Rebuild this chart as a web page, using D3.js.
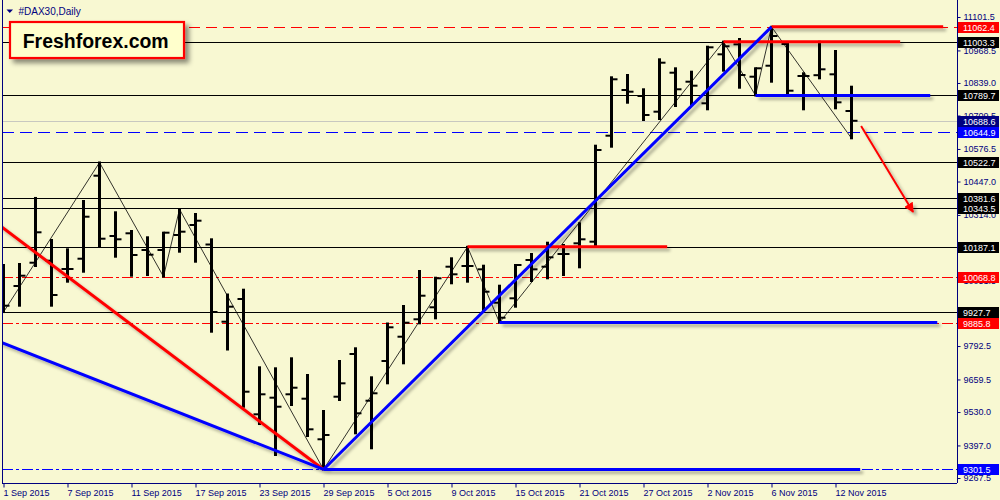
<!DOCTYPE html>
<html><head><meta charset="utf-8">
<script src="https://cdn.jsdelivr.net/npm/d3@7/dist/d3.min.js"></script>
<style>html,body{margin:0;padding:0;background:#f8f8d2;overflow:hidden}</style>
</head><body>
<svg id="chart" width="1000" height="500"></svg>
<script>
// ---------- DATA ----------
const dates = [
 "2015-09-01","2015-09-02","2015-09-03","2015-09-04","2015-09-07","2015-09-08","2015-09-09","2015-09-10","2015-09-11",
 "2015-09-14","2015-09-15","2015-09-16","2015-09-17","2015-09-18","2015-09-21","2015-09-22","2015-09-23","2015-09-24",
 "2015-09-25","2015-09-28","2015-09-29","2015-09-30","2015-10-01","2015-10-02","2015-10-05","2015-10-06","2015-10-07",
 "2015-10-08","2015-10-09","2015-10-12","2015-10-13","2015-10-14","2015-10-15","2015-10-16","2015-10-19","2015-10-20",
 "2015-10-21","2015-10-22","2015-10-23","2015-10-26","2015-10-27","2015-10-28","2015-10-29","2015-10-30","2015-11-02",
 "2015-11-03","2015-11-04","2015-11-05","2015-11-06","2015-11-09","2015-11-10","2015-11-11","2015-11-12","2015-11-13"];
const opens  = [9995.5,10031.3,10124.0,10132.0,10099.0,10139.9,10470.1,10230.2,10241.0,10174.5,10174.5,10234.2,10274.0,10196.4,9889.3,9979.6,9520.9,9587.0,9600.5,9583.0,9421.5,9590.9,9760.8,9575.0,9733.0,9829.6,9898.9,9946.6,10108.1,10110.9,10097.7,9964.9,9982.4,10134.8,10108.1,10158.6,10201.2,10207.6,10629.3,10811.1,10787.2,10724.8,10879.9,10844.1,10758.2,10953.0,10992.8,10864.0,10907.7,10994.0,10866.8,10870.0,10873.5,10727.5];
const highs  = [10114.9,10118.9,10381.6,10214.3,10177.3,10369.5,10522.7,10324.5,10250.1,10225.1,10243.4,10336.5,10317.8,10217.1,9997.5,10016.6,9707.9,9703.9,9743.7,9677.3,9534.0,9733.0,9783.5,9668.1,9882.1,9951.8,10091.0,10064.3,10141.5,10187.1,10112.1,10032.5,10114.9,10158.6,10203.6,10194.4,10280.8,10589.5,10861.6,10870.8,10813.9,10933.2,10897.4,10883.9,10983.3,11003.3,11014.0,10897.4,11062.4,10999.0,10877.5,11003.2,10966.2,10824.2];
const lows   = [9927.7,9953.0,10110.9,9953.0,10048.5,10088.2,10187.7,10147.9,10072.3,10075.1,10068.8,10167.8,10128.0,9849.5,9778.7,9551.1,9482.3,9359.0,9557.9,9434.6,9301.5,9577.8,9445.3,9385.7,9644.2,9723.8,9882.9,9902.8,10042.1,10048.5,9929.1,9885.8,9949.0,10051.2,10062.0,10075.1,10105.7,10191.7,10585.5,10760.5,10691.7,10695.7,10747.4,10751.4,10734.3,10887.9,10820.2,10789.7,10844.1,10797.9,10734.3,10857.5,10738.3,10618.9];
const closes = [9953.0,10072.3,10245.0,9995.5,10099.0,10307.0,10219.5,10217.1,10154.7,10155.9,10243.4,10247.4,10291.1,9927.9,9949.0,9610.8,9600.5,9551.1,9626.7,9461.2,9438.6,9644.2,9524.9,9604.5,9867.0,9885.3,9992.7,10062.0,10077.9,10110.9,10008.6,9905.2,10114.9,10097.7,10145.5,10158.6,10217.1,10572.4,10853.7,10804.3,10711.6,10919.7,10813.9,10828.2,10980.9,10985.0,10870.7,10897.4,11025.8,10808.3,10866.8,10893.4,10762.1,10688.6];

const dateTickDates  = ["2015-09-01","2015-09-07","2015-09-11","2015-09-17","2015-09-23","2015-09-29","2015-10-05","2015-10-09","2015-10-15","2015-10-21","2015-10-27","2015-11-02","2015-11-06","2015-11-12"];
const dateTickLabels = ["1 Sep 2015","7 Sep 2015","11 Sep 2015","17 Sep 2015","23 Sep 2015","29 Sep 2015","5 Oct 2015","9 Oct 2015","15 Oct 2015","21 Oct 2015","27 Oct 2015","2 Nov 2015","6 Nov 2015","12 Nov 2015"];
const priceTicks = [11101.5,10968.5,10839.0,10709.5,10576.5,10447.0,10314.0,10051.5,9792.5,9659.5,9530.0,9397.0,9267.5];

// horizontal price levels and their kind
const levelValues = [11062.4,11003.3,10789.7,10688.6,10644.9,10522.7,10381.6,10343.5,10187.1,10068.8,9927.7,9885.8,9301.5];
const levelKinds  = ["redDash","solid","solid","bid","blueDash","solid","solid","solid","solid","redDashDot","solid","redDashDot","blueDashDot"];

// zigzag pivots (bar index, price)
const zigIdx    = [0,6,10,11,20,29,31,45,47,48,53];
const zigPrices = [9927.7,10522.7,10068.8,10336.5,9301.5,10187.1,9885.8,11003.3,10789.7,11062.4,10618.9];

// drawn trend objects: [startIdx, startPrice, endIdx, endPrice]
const redTrend   = [[-1,10308.9,20,9301.5],[29,10187.1,41.48,10187.1],[45,11003.3,56.04,11003.3],[48,11062.4,58.73,11062.4]];
const blueTrend  = [[-1,9828.5,20,9301.5],[20,9301.5,48,11062.4],[20,9301.5,53.54,9301.5],[31,9885.8,58.36,9885.8],[47,10789.7,57.92,10789.7]];
const arrowLine  = [53.6,10667.8,56.85,10325.7];

const title = "#DAX30,Daily";
const logoText = "Freshforex.com";

// ---------- STYLE ----------
const styles = {
  solid:       {stroke:"#000000", dash:null,         box:"#000000"},
  bid:         {stroke:"#c8c8c0", dash:null,         box:"#000080"},
  redDash:     {stroke:"#ff0000", dash:"11,6",       box:"#ff0000"},
  blueDash:    {stroke:"#0000ff", dash:"12,6",       box:"#0000ff"},
  redDashDot:  {stroke:"#ff0000", dash:"11,3,3,3",   box:"#ff0000"},
  blueDashDot: {stroke:"#0000ff", dash:"11,3,3,3",   box:"#0000ff"}
};
const NAVY = "#000080";
const FONT = "'Liberation Sans', Arial, sans-serif";

// ---------- CHART ----------
const svg = d3.select("#chart");
const plot = {left:2, right:957, top:0, bottom:483};

const x = d3.scaleLinear().domain([0, 53]).range([3.5, 3.5 + 16*53]);
const y = d3.scaleLinear().domain([9267.5, 11101.5]).range([478, 17]);

const defs = svg.append("defs");
defs.append("clipPath").attr("id","clip").append("rect")
  .attr("x",plot.left).attr("y",plot.top).attr("width",plot.right-plot.left).attr("height",plot.bottom-plot.top);
const f = defs.append("filter").attr("id","shadow").attr("filterUnits","userSpaceOnUse")
  .attr("x",0).attr("y",0).attr("width",1000).attr("height",500);
f.append("feDropShadow").attr("dx",3).attr("dy",3).attr("stdDeviation",1.6)
  .attr("flood-color","#000").attr("flood-opacity",0.3);
const f2 = defs.append("filter").attr("id","boxshadow").attr("filterUnits","userSpaceOnUse")
  .attr("x",0).attr("y",0).attr("width",1000).attr("height",500);
f2.append("feDropShadow").attr("dx",4).attr("dy",4).attr("stdDeviation",2.5)
  .attr("flood-color","#000").attr("flood-opacity",0.45);
defs.append("marker").attr("id","arrow").attr("viewBox","0 0 10 10").attr("refX",9).attr("refY",5)
  .attr("markerWidth",5).attr("markerHeight",5).attr("orient","auto").attr("markerUnits","strokeWidth")
  .append("path").attr("d","M0,0 L10,5 L0,10 Z").attr("fill","#ff0000");

svg.append("rect").attr("width",1000).attr("height",500).attr("fill","#f8f8d2");

const g = svg.append("g").attr("clip-path","url(#clip)");

// level lines
g.selectAll("line.level").data(levelValues).join("line").attr("class","level")
  .attr("x1",plot.left).attr("x2",plot.right)
  .attr("y1",d=>Math.round(y(d))+0.5).attr("y2",d=>Math.round(y(d))+0.5)
  .attr("stroke",(d,i)=>styles[levelKinds[i]].stroke)
  .attr("stroke-width",1)
  .attr("stroke-dasharray",(d,i)=>styles[levelKinds[i]].dash);

// zigzag
const zig = zigIdx.map((d,i)=>[x(d), y(zigPrices[i])]);
g.append("path").attr("d",d3.line()(zig)).attr("fill","none").attr("stroke","#000").attr("stroke-width",0.8);

// OHLC bars
const bars = g.append("g");
dates.forEach((dt,i)=>{
  const cx = x(i);
  bars.append("line").attr("x1",cx).attr("x2",cx).attr("y1",y(highs[i])-1).attr("y2",y(lows[i])+1)
    .attr("stroke","#000").attr("stroke-width",3);
  bars.append("line").attr("x1",cx-6).attr("x2",cx).attr("y1",y(opens[i])).attr("y2",y(opens[i]))
    .attr("stroke","#000").attr("stroke-width",2);
  bars.append("line").attr("x1",cx).attr("x2",cx+6).attr("y1",y(closes[i])).attr("y2",y(closes[i]))
    .attr("stroke","#000").attr("stroke-width",2);
});

// thick objects
const objs = g.append("g").attr("filter","url(#shadow)");
objs.selectAll("line.red").data(redTrend).join("line").attr("class","red")
  .attr("x1",d=>x(d[0])).attr("y1",d=>y(d[1])).attr("x2",d=>x(d[2])).attr("y2",d=>y(d[3]))
  .attr("stroke","#ff0000").attr("stroke-width",3);
objs.selectAll("line.blue").data(blueTrend).join("line").attr("class","blue")
  .attr("x1",d=>x(d[0])).attr("y1",d=>y(d[1])).attr("x2",d=>x(d[2])).attr("y2",d=>y(d[3]))
  .attr("stroke","#0000ff").attr("stroke-width",3);
objs.append("line")
  .attr("x1",x(arrowLine[0])).attr("y1",y(arrowLine[1])).attr("x2",x(arrowLine[2])).attr("y2",y(arrowLine[3]))
  .attr("stroke","#ff0000").attr("stroke-width",2).attr("marker-end","url(#arrow)");

// frame
svg.append("line").attr("x1",2.5).attr("x2",2.5).attr("y1",0).attr("y2",483.5).attr("stroke",NAVY).attr("stroke-width",1);

// right axis
const yAxis = d3.axisRight(y).tickValues(priceTicks).tickSize(3).tickPadding(3).tickFormat(d3.format(".1f"));
const ya = svg.append("g").attr("transform","translate(957.5,0)").call(yAxis);
ya.select(".domain").attr("stroke",NAVY).attr("d","M0,0V483");
ya.selectAll(".tick line").attr("stroke",NAVY);
ya.selectAll(".tick text").attr("fill",NAVY).attr("font-family",FONT).attr("font-size",9).attr("x",6);

// bottom axis
const tickIdx = dateTickDates.map(d=>dates.indexOf(d));
const xAxis = d3.axisBottom(x).tickValues(tickIdx).tickSize(4).tickFormat((d,i)=>dateTickLabels[i]);
const xa = svg.append("g").attr("transform","translate(0,483.5)").call(xAxis);
xa.select(".domain").attr("stroke",NAVY).attr("d","M2,0H957");
xa.selectAll(".tick line").attr("stroke",NAVY);
xa.selectAll(".tick text").attr("fill",NAVY).attr("font-family",FONT).attr("font-size",9)
  .attr("text-anchor","start").attr("x",-0.5).attr("dy",0).attr("y",12.5);

// price level boxes
const boxes = svg.append("g");
levelValues.forEach((v,i)=>{
  const cy = Math.round(y(v))+0.5;
  boxes.append("rect").attr("x",958).attr("y",cy-5.5).attr("width",41).attr("height",11)
    .attr("fill",styles[levelKinds[i]].box);
  boxes.append("text").attr("x",963).attr("y",cy+3.5).attr("fill","#fff")
    .attr("font-family",FONT).attr("font-size",9).text(d3.format(".1f")(v));
});

// title
svg.append("path").attr("d","M6.5,9.5 L13,9.5 L9.75,13 Z").attr("fill",NAVY);
svg.append("text").attr("x",18.5).attr("y",14.5).attr("fill",NAVY).attr("font-family",FONT).attr("font-size",10).text(title);

// logo
svg.append("rect").attr("x",10).attr("y",22).attr("width",174).attr("height",36)
  .attr("fill","#ffffcc").attr("stroke","#ff0000").attr("stroke-width",2.2).attr("filter","url(#boxshadow)");
svg.append("text").attr("x",22.7).attr("y",48.3).attr("fill","#000").attr("font-family",FONT)
  .attr("font-weight","bold").attr("font-size",20).attr("textLength",146).attr("lengthAdjust","spacingAndGlyphs").text(logoText);
</script>
</body></html>
